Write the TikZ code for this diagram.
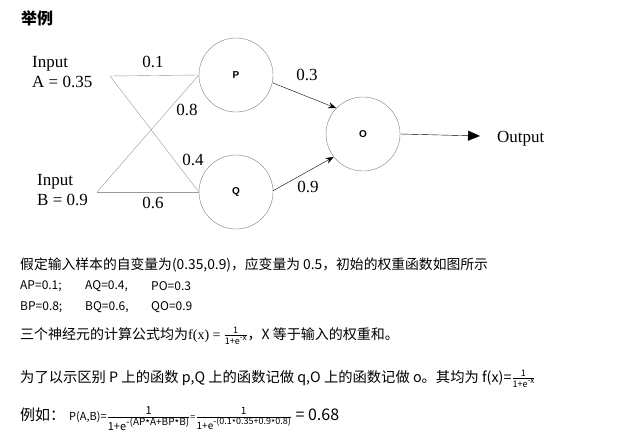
\documentclass[tikz,border=0pt]{standalone}
\usepackage{fontspec}
\usepackage{amsmath}
\setmainfont{Liberation Serif}
\setsansfont{Liberation Sans}
\newfontfamily\cjk{Noto Sans CJK SC}
\usetikzlibrary{arrows.meta}

% small fraction as in the notes: [size]{numerator}{base}{exponent}
\newcommand{\tinyfrac}[4][7]{$\genfrac{}{}{0.4pt}{}{\hbox{\fontsize{#1}{#1}\selectfont #2}}{\hbox{\fontsize{#1}{#1}\selectfont #3\raisebox{0.45em}{\fontsize{\numexpr#1-1\relax}{1}\selectfont #4}}}$}
\newcommand{\mdot}{\raisebox{-0.3ex}{*}}

\tikzset{
  neuron/.style={draw=gray, circle, minimum size=74pt, font=\sffamily\bfseries\fontsize{10}{10}\selectfont},
  label/.style={font=\fontsize{17}{20}\selectfont, inner sep=1pt},
  weight/.style={draw=gray!80},
  line/.style={anchor=west, inner sep=0pt, font=\cjk\fontsize{13.8}{14}\selectfont},
  pair/.style={anchor=west, inner sep=0pt, font=\cjk\fontsize{12}{12}\selectfont}
}

\begin{document}
\begin{tikzpicture}[x=1pt, y=-1pt]
    \fill[white] (0,0) rectangle (631,437);
    \useasboundingbox (0,0) rectangle (631,437);

    \node[anchor=west, inner sep=0pt, font=\cjk\bfseries\fontsize{16}{16}\selectfont] (title) at (21,18) {举例};

    % network
    \node[neuron] (P) at (236,75) {P};
    \node[neuron] (Q) at (236,192) {Q};
    \node[neuron] (O) at (363,134) {O};

    \node[label, anchor=west, align=left] (inA) at (31,72) {Input\\A = 0.35};
    \node[label, anchor=west, align=left] (inB) at (36,190) {Input\\B = 0.9};
    \coordinate (a) at (110,76);
    \coordinate (b) at (97,192);

    \draw[weight] (a) -- (P.west);
    \draw[weight] (a) -- (Q.west);
    \draw[weight] (b) -- (P.west);
    \draw[weight] (b) -- (Q.west);

    \node[label] (wAP) at (153,62) {0.1};
    \node[label] (wBP) at (187,110) {0.8};
    \node[label] (wAQ) at (193,160) {0.4};
    \node[label] (wBQ) at (153,203) {0.6};
    \node[label] (wPO) at (307,75) {0.3};
    \node[label] (wQO) at (308,187) {0.9};

    \draw[-{Stealth[length=8pt, width=6pt]}] (P.-12) -- (O.136);
    \draw[-{Stealth[length=8pt, width=6pt]}] (Q.2) -- (O.218);

    \node[label, anchor=west] (out) at (496,139) {Output};
    \draw[-{Triangle[length=12pt, width=10pt]}] (O.east) -- (480,136);

    % notes
    \node[line] (l1) at (20,265) {假定输入样本的自变量为(0.35,0.9)，应变量为 0.5，初始的权重函数如图所示};
    \node[pair] (ap) at (20,286) {AP=0.1;};
    \node[pair] (aq) at (85,286) {AQ=0.4,};
    \node[pair] (po) at (151,286) {PO=0.3};
    \node[pair] (bp) at (20,307) {BP=0.8;};
    \node[pair] (bq) at (85,307) {BQ=0.6,};
    \node[pair] (qo) at (151,307) {QO=0.9};
    \node[line, font=\cjk\fontsize{14}{14}\selectfont] (l4) at (20,336) {三个神经元的计算公式均为{\rmfamily f(x) =} \tinyfrac[9]{1}{1+e}{-x}，X 等于输入的权重和。};
    \node[line, font=\cjk\fontsize{14.3}{14}\selectfont] (l5) at (20,379) {为了以示区别 P 上的函数 p,Q 上的函数记做 q,O 上的函数记做 o。其均为 f(x)=\tinyfrac[9]{1}{1+e}{-x}};
    \node[line, font=\cjk\fontsize{15}{15}\selectfont] (l6) at (20,419) {例如：\hspace{4pt}{\fontsize{11}{12}\selectfont P(A,B)=}\tinyfrac[11]{1}{1+e}{-(AP\mdot A+BP\mdot B)}{\fontsize{9}{9}\selectfont =}\tinyfrac[10]{1}{1+e}{-(0.1\mdot 0.35+0.9\mdot 0.8)}{\fontsize{16}{16}\selectfont\ = 0.68}};
\end{tikzpicture}
\end{document}
